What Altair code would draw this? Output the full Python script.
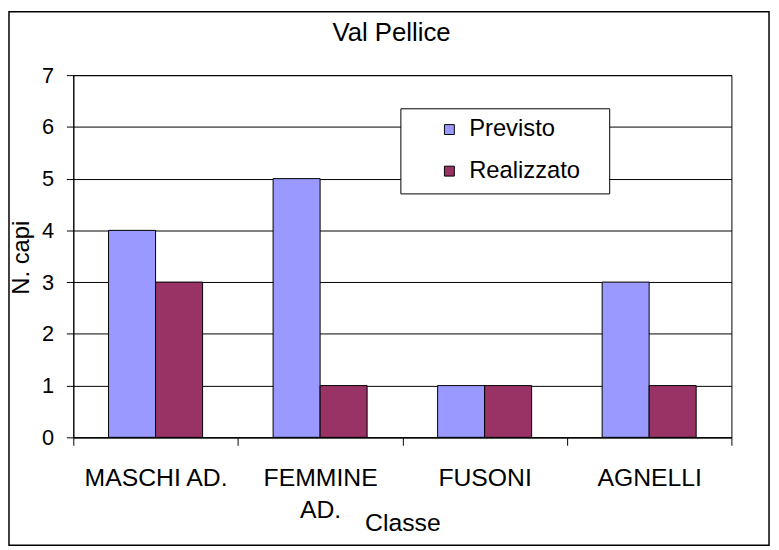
import altair as alt
import pandas as pd

categories = ["MASCHI AD.", "FEMMINE AD.", "FUSONI", "AGNELLI"]
series = ["Previsto", "Realizzato"]
previsto = [4, 5, 1, 3]
realizzato = [3, 1, 1, 1]
colors = ["#9999FF", "#993366"]
y_ticks = [0, 1, 2, 3, 4, 5, 6, 7]

rows = []
for c, p, r in zip(categories, previsto, realizzato):
    rows.append({"Classe": c, "Serie": series[0], "N": p})
    rows.append({"Classe": c, "Serie": series[1], "N": r})
df = pd.DataFrame(rows)

FONT = "Liberation Sans"

bars = alt.Chart(df).mark_bar(stroke="black", strokeWidth=1).encode(
    x=alt.X(
        "Classe:N", sort=categories,
        scale=alt.Scale(paddingInner=0, paddingOuter=0),
        axis=alt.Axis(
            title="Classe", labelAngle=0, tickBand="extent", tickSize=8,
            labelPadding=21, labelFontSize=25, labelLineHeight=32,
            labelExpr="datum.value == 'FEMMINE AD.' ? ['FEMMINE', 'AD.'] : datum.label",
            labelOverlap=False, labelLimit=300,
            titleFontSize=25, titleFontWeight="normal", titleY=94,
            titleBaseline="alphabetic", grid=False,
        ),
    ),
    xOffset=alt.XOffset("Serie:N", sort=series,
                        scale=alt.Scale(paddingInner=0, paddingOuter=0.75)),
    y=alt.Y(
        "N:Q", scale=alt.Scale(domain=[0, 7]),
        axis=alt.Axis(
            values=y_ticks, title="N. capi", tickSize=7, labelPadding=13,
            labelFontSize=22, grid=True, gridColor="black", gridWidth=1,
            titleFontSize=24, titleFontWeight="normal", titleAngle=270,
            titleX=-52, titleY=184, titleAlign="center", titleBaseline="middle",
        ),
    ),
    color=alt.Color(
        "Serie:N", sort=series,
        scale=alt.Scale(domain=series, range=colors),
        legend=alt.Legend(
            title=None, orient="none", legendX=368, legendY=43,
            symbolType="square", symbolSize=100, symbolStrokeColor="black",
            symbolStrokeWidth=1, labelFontSize=24, labelFont=FONT,
            labelOffset=8, rowPadding=18, labelColor="black",
        ),
    ),
)

box = alt.Chart(alt.Data(values=[{"k": 1}])).mark_rect(
    fill="white", stroke="black", strokeWidth=1
).encode(x=alt.value(331), x2=alt.value(542), y=alt.value(34), y2=alt.value(120))

border = alt.Chart(alt.Data(values=[{"k": 1}])).mark_rect(
    fillOpacity=0, stroke="black", strokeWidth=1.5
).encode(x=alt.value(-65), x2=alt.value(703), y=alt.value(-64), y2=alt.value(475))

chart = alt.layer(bars, box, border).properties(
    width=665, height=366,
    title=alt.TitleParams(
        "Val Pellice", fontSize=26, font=FONT, fontWeight="normal",
        anchor="middle", frame="group", dx=-11, offset=-56,
        baseline="alphabetic", color="black",
    ),
    autosize=alt.AutoSizeParams(type="none"),
    padding={"left": 66, "top": 65, "right": 40, "bottom": 111},
).configure_view(
    stroke="black", strokeWidth=1
).configure_axis(
    domainColor="black", tickColor="black", labelColor="black",
    titleColor="black", labelFont=FONT, titleFont=FONT,
)

chart.save("out.html", embed_options={"renderer": "svg", "actions": False})
